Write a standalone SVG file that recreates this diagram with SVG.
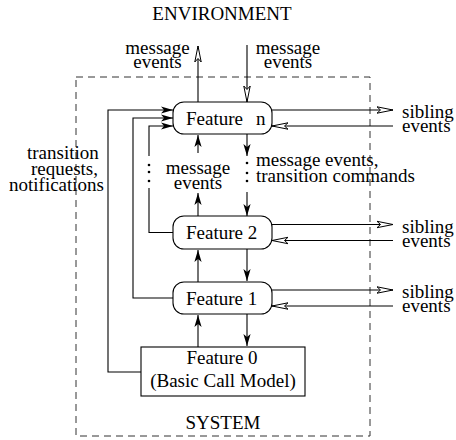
<svg xmlns="http://www.w3.org/2000/svg" width="456" height="440" viewBox="0 0 456 440">
<style>
text{font-family:"Liberation Serif","Times New Roman",serif;font-size:19px;fill:#000}
.m{text-anchor:middle}
.box{fill:#fff;stroke:#000;stroke-width:1.1}
.ln{fill:none;stroke:#000;stroke-width:1.1}
.fa{marker-end:url(#fill)}
.oa{marker-end:url(#open)}
.sys{fill:none;stroke:#333;stroke-width:1;stroke-dasharray:7,5}
</style>
<defs>
<marker id="fill" viewBox="-13 -5 14 10" refX="0" refY="0" markerWidth="14" markerHeight="10" markerUnits="userSpaceOnUse" orient="auto">
<path d="M0,0 L-12,-3.6 L-9,0 L-12,3.6 Z" fill="#000"/>
</marker>
<marker id="open" viewBox="-18 -5 19 10" refX="0" refY="0" markerWidth="19" markerHeight="10" markerUnits="userSpaceOnUse" orient="auto">
<path d="M0,0 L-16,-3.2 L-12.5,0 L-16,3.2 Z" fill="#fff" stroke="#000" stroke-width="1"/>
</marker>
</defs>

<g id="system">
<rect class="sys" x="76" y="77" width="294" height="359"/>
<text class="m" x="223" y="429">SYSTEM</text>
</g>
<g id="environment">
<text class="m" x="222" y="20">ENVIRONMENT</text>
</g>

<g id="connectors">
<path class="ln oa" d="M198,102 V46"/>
<path class="ln oa" d="M247,45 V102"/>
<path class="ln fa" d="M198,153 V135"/>
<path class="ln fa" d="M198,216 V193"/>
<path class="ln fa" d="M247,134 V156"/>
<path class="ln fa" d="M247,192 V216"/>
<path class="ln fa" d="M198,282 V250"/>
<path class="ln fa" d="M247,249 V281"/>
<path class="ln fa" d="M198,347 V315"/>
<path class="ln fa" d="M247,314 V346"/>
<path class="ln fa" d="M141,372 H108 V110 H173"/>
<path class="ln fa" d="M173,298 H133 V118 H173"/>
<path class="ln fa" d="M149,156 V126 H173"/>
<path class="ln" d="M173,232.5 H149 V188"/>
<g fill="#000">
<circle cx="149" cy="165" r="1.3"/><circle cx="149" cy="172" r="1.3"/><circle cx="149" cy="181" r="1.3"/>
<circle cx="247" cy="163" r="1.3"/><circle cx="247" cy="173" r="1.3"/><circle cx="247" cy="181" r="1.3"/>
</g>
<path class="ln oa" d="M272,110 H393"/>
<path class="ln oa" d="M393,126 H272"/>
<path class="ln oa" d="M272,224.5 H393"/>
<path class="ln oa" d="M393,240.5 H272"/>
<path class="ln oa" d="M272,290 H393"/>
<path class="ln oa" d="M393,306 H272"/>
</g>

<g id="feature-n">
<rect class="box" x="173" y="102" width="99" height="32" rx="11"/>
<text x="186" y="124.5">Feature <tspan x="256">n</tspan></text>
</g>
<g id="feature-2">
<rect class="box" x="173" y="216" width="99" height="33" rx="11"/>
<text x="186" y="239">Feature 2</text>
</g>
<g id="feature-1">
<rect class="box" x="173" y="282" width="99" height="32" rx="11"/>
<text x="186" y="305">Feature 1</text>
</g>
<g id="feature-0">
<rect class="box" x="141" y="347" width="164" height="49"/>
<text class="m" x="222" y="364">Feature 0</text>
<text class="m" x="223" y="387">(Basic Call Model)</text>
</g>

<g id="labels">
<text class="m" x="157.5" y="54">message</text>
<text class="m" x="157.5" y="68">events</text>
<text class="m" x="288" y="54">message</text>
<text class="m" x="288" y="68">events</text>
<text class="m" x="198" y="174">message</text>
<text class="m" x="198" y="189">events</text>
<text x="256" y="166">message events,</text>
<text x="256" y="182">transition commands</text>
<text x="27" y="159">transition</text>
<text x="31" y="175">requests,</text>
<text x="9" y="191">notifications</text>
<text x="402" y="118">sibling</text>
<text x="402" y="132">events</text>
<text x="402" y="232.5">sibling</text>
<text x="402" y="246.5">events</text>
<text x="402" y="298">sibling</text>
<text x="402" y="312">events</text>
</g>
</svg>
